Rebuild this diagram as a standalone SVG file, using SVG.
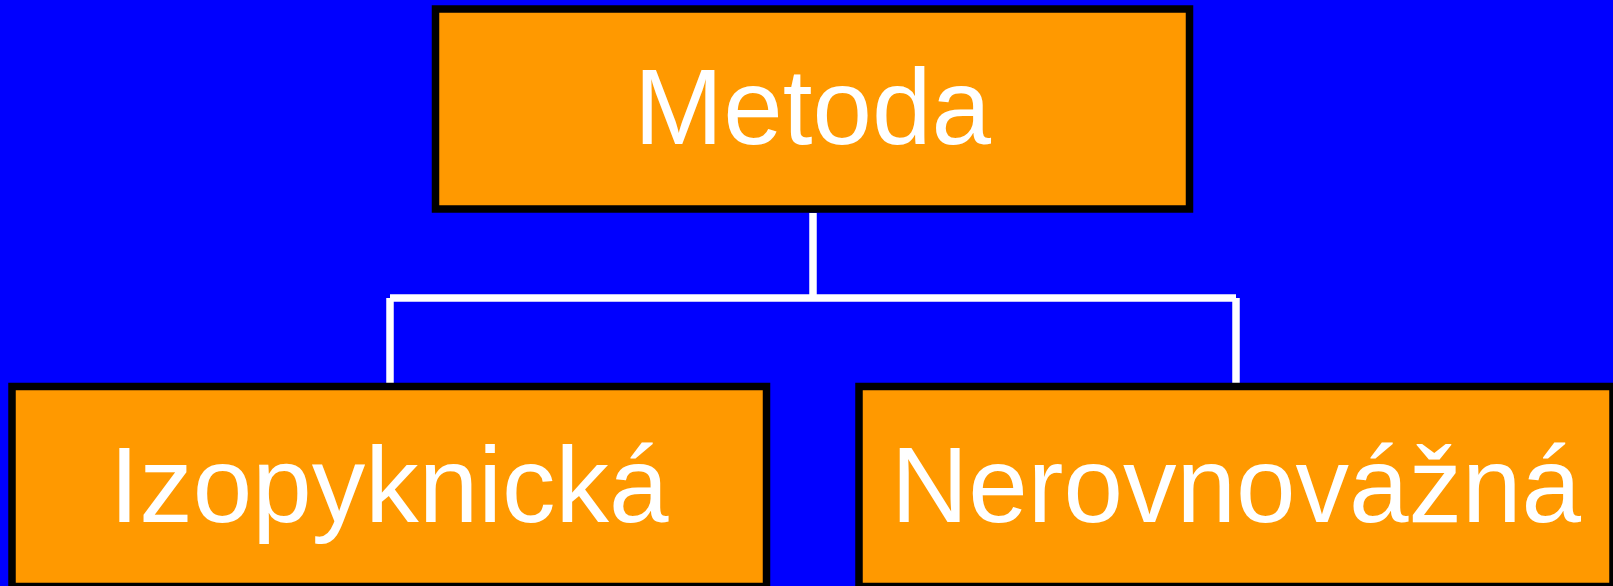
<svg xmlns="http://www.w3.org/2000/svg" width="1613" height="586" viewBox="0 0 1613 586">
  <style>
    .box { fill: #FF9900; stroke: #000000; stroke-width: 7.5; }
    .lbl { fill: #FFFFFF; font-family: "Liberation Sans", Arial, sans-serif; font-size: 107px; text-anchor: middle; }
    .conn { stroke: #FFFFFF; stroke-width: 7.5; fill: none; }
  </style>
  <rect x="0" y="0" width="1613" height="586" fill="#0000FF"/>
  <g id="connectors">
    <path class="conn" d="M813,213 V298"/>
    <path class="conn" d="M390,298 H1236"/>
    <path class="conn" d="M390,298 V383"/>
    <path class="conn" d="M1236,298 V383"/>
  </g>
  <g id="node-metoda">
    <rect class="box" x="435.5" y="9" width="754" height="200"/>
    <text class="lbl" x="812.5" y="144">Metoda</text>
  </g>
  <g id="node-izopyknicka">
    <rect class="box" x="12" y="386.5" width="754.5" height="200"/>
    <text class="lbl" x="389" y="522">Izopyknická</text>
  </g>
  <g id="node-nerovnovazna">
    <rect class="box" x="859" y="386.5" width="754" height="200"/>
    <text class="lbl" x="1236" y="522">Nerovnovážná</text>
  </g>
</svg>
